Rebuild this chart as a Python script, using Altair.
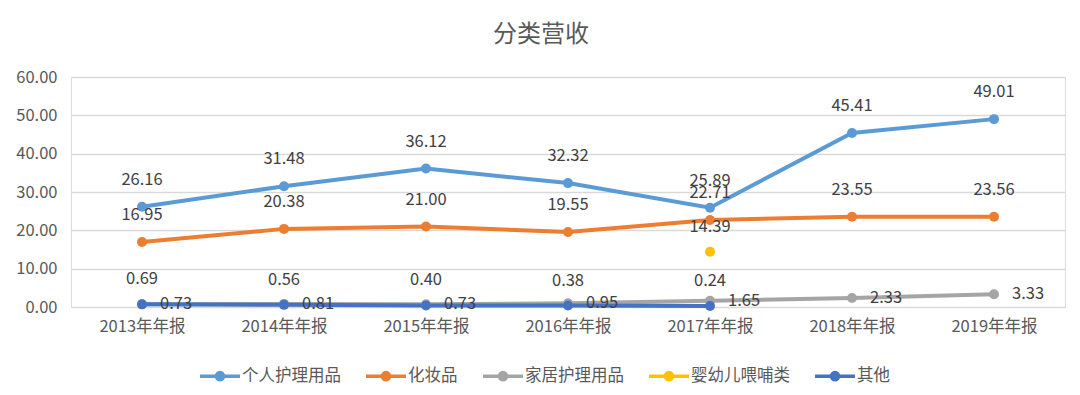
import altair as alt
import pandas as pd

years = ["2013年年报", "2014年年报", "2015年年报", "2016年年报", "2017年年报", "2018年年报", "2019年年报"]
series = ["个人护理用品", "化妆品", "家居护理用品", "婴幼儿喂哺类", "其他"]
colors = ["#5B9BD5", "#ED7D31", "#A5A5A5", "#FFC000", "#4472C4"]

personal = [26.16, 31.48, 36.12, 32.32, 25.89, 45.41, 49.01]
cosmetics = [16.95, 20.38, 21.00, 19.55, 22.71, 23.55, 23.56]
household = [0.73, 0.81, 0.73, 0.95, 1.65, 2.33, 3.33]
baby = [None, None, None, None, 14.39, None, None]
other = [0.69, 0.56, 0.40, 0.38, 0.24, None, None]

rows = []
for si, (name, vals) in enumerate(zip(series, [personal, cosmetics, household, baby, other])):
    for y, v in zip(years, vals):
        if v is not None:
            rows.append({"year": y, "series": name, "value": v, "order": si})
df = pd.DataFrame(rows)

FONT = "Noto Sans CJK SC"

x_enc = alt.X("year:N", sort=years, scale=alt.Scale(domain=years),
              axis=alt.Axis(title=None, labelAngle=0, ticks=False, domain=False, grid=False,
                            labelFontSize=16.5, labelColor="#595959", labelPadding=11, labelFont=FONT))
y_enc = alt.Y("value:Q", scale=alt.Scale(domain=[0, 60]),
              axis=alt.Axis(title=None, values=[0, 10, 20, 30, 40, 50, 60], format=".2f",
                            ticks=False, domain=False, gridColor="#D9D9D9", gridWidth=1.3,
                            labelFontSize=16.5, labelColor="#595959", labelPadding=14, labelFont=FONT))
color_enc = alt.Color("series:N", scale=alt.Scale(domain=series, range=colors),
                      legend=alt.Legend(title=None, orient="none", legendX=127, legendY=277,
                                        direction="horizontal", columns=5, columnPadding=18,
                                        labelFontSize=16.5, labelColor="#595959", labelFont=FONT,
                                        symbolType="M-1,0L1,0M-0.18,0A0.18,0.18 0 1,1 0.18,0A0.18,0.18 0 1,1 -0.18,0Z",
                                        symbolSize=1600, symbolStrokeWidth=3.5, labelOffset=0,
                                        labelLimit=200))

base = alt.Chart(df)

lines = base.mark_line(strokeWidth=4).encode(
    x=x_enc, y=y_enc, color=color_enc, order=alt.Order("order:Q"), detail="series:N")
points = base.mark_point(filled=True, size=100, opacity=1).encode(
    x=x_enc, y=y_enc, color=alt.Color("series:N", scale=alt.Scale(domain=series, range=colors), legend=None))

def labels(names, **kw):
    return base.transform_filter(
        alt.FieldOneOfPredicate(field="series", oneOf=names)
    ).mark_text(fontSize=16.5, color="#404040", font=FONT, **kw).encode(
        x=x_enc, y=y_enc, text=alt.Text("value:Q", format=".2f"))

lab_above = labels(["个人护理用品", "化妆品"], dy=-27)
lab_other = labels(["其他", "婴幼儿喂哺类"], dy=-25)
lab_right = labels(["家居护理用品"], dx=18, align="left", baseline="middle")

chart = alt.layer(lines, points, lab_above, lab_other, lab_right).properties(
    width=994, height=230,
    autosize=alt.AutoSizeParams(type="none"),
    padding={"left": 63, "top": 69, "right": 7, "bottom": 80},
    title=alt.TitleParams("分类营收", fontSize=24, color="#595959", font=FONT,
                          fontWeight="normal", anchor="middle", dx=-27, offset=22),
).configure_view(stroke=None).configure(background="white")

chart.save("out.html", embed_options={"renderer": "svg", "actions": False})
